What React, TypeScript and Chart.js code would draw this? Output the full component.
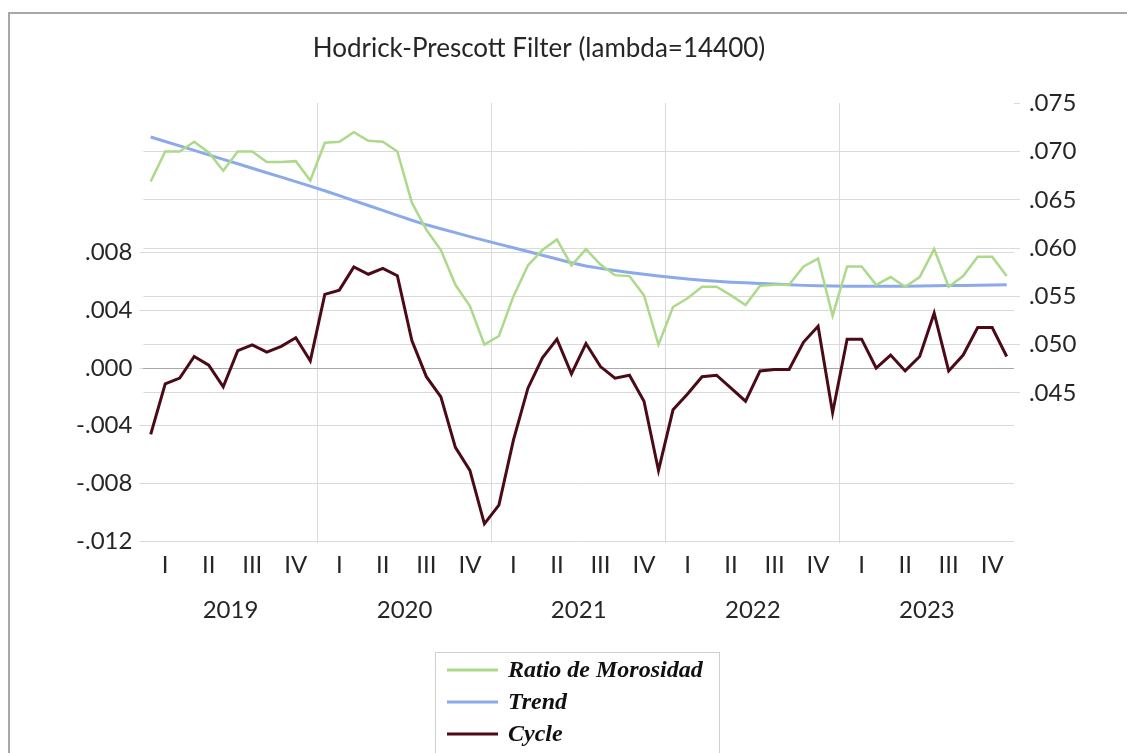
import { useEffect, useRef } from 'react';
import { Chart, registerables } from 'chart.js';

Chart.register(...registerables);

// Monthly observations, January 2019 through December 2023
const years = ['2019', '2020', '2021', '2022', '2023'];
const quarterNames = ['I', 'II', 'III', 'IV'];
const monthsPerYear = 12;

const ratio = [
  0.0669, 0.0700, 0.0700, 0.0710, 0.0699, 0.0680, 0.0700, 0.0700, 0.0689, 0.0689, 0.0690, 0.0670,
  0.0709, 0.0710, 0.0720, 0.0711, 0.0710, 0.0700, 0.0647, 0.0619, 0.0598, 0.0562, 0.0540, 0.0500,
  0.0509, 0.0550, 0.0582, 0.0598, 0.0609, 0.0582, 0.0599, 0.0583, 0.0572, 0.0571, 0.0551, 0.0500,
  0.0539, 0.0548, 0.0560, 0.0560, 0.0551, 0.0541, 0.0561, 0.0562, 0.0562, 0.0581, 0.0589, 0.0530,
  0.0581, 0.0581, 0.0562, 0.0570, 0.0560, 0.0570, 0.0599, 0.0560, 0.0571, 0.0591, 0.0591, 0.0571,
];

const trend = [
  0.07150, 0.07104, 0.07058, 0.07011, 0.06965, 0.06919, 0.06873, 0.06827, 0.06780, 0.06734, 0.06688, 0.06642,
  0.06594, 0.06543, 0.06492, 0.06441, 0.06390, 0.06339, 0.06288, 0.06241, 0.06200, 0.06160, 0.06119, 0.06080,
  0.06041, 0.06003, 0.05964, 0.05926, 0.05887, 0.05849, 0.05815, 0.05790, 0.05768, 0.05748, 0.05730, 0.05712,
  0.05695, 0.05680, 0.05667, 0.05656, 0.05647, 0.05640, 0.05633, 0.05627, 0.05620, 0.05614, 0.05610, 0.05607,
  0.05605, 0.05604, 0.05604, 0.05605, 0.05606, 0.05608, 0.05610, 0.05612, 0.05614, 0.05616, 0.05618, 0.05620,
];

const cycle = [
  -0.0046, -0.0011, -0.0007, 0.0008, 0.0002, -0.0013, 0.0012, 0.0016, 0.0011, 0.0015, 0.0021, 0.0005,
  0.0051, 0.0054, 0.0070, 0.0065, 0.0069, 0.0064, 0.0019, -0.0006, -0.0020, -0.0055, -0.0071, -0.0108,
  -0.0095, -0.0050, -0.0014, 0.0007, 0.0020, -0.0004, 0.0017, 0.0001, -0.0007, -0.0005, -0.0023, -0.0071,
  -0.0029, -0.0018, -0.0006, -0.0005, -0.0014, -0.0023, -0.0002, -0.0001, -0.0001, 0.0018, 0.0029, -0.0031,
  0.0020, 0.0020, 0.0000, 0.0009, -0.0002, 0.0008, 0.0038, -0.0002, 0.0009, 0.0028, 0.0028, 0.0008,
];

const leftTicks = [-0.012, -0.008, -0.004, 0, 0.004, 0.008];
const rightTicks = [0.045, 0.05, 0.055, 0.06, 0.065, 0.07, 0.075];

const seriesNames = ['Ratio de Morosidad', 'Trend', 'Cycle'];
const seriesColors = ['#acd98a', '#8caaea', '#4a0b16'];
const titleText = 'Hodrick-Prescott Filter (lambda=14400)';

const tickFont = { family: 'Lato', size: 24 };
const textColor = '#262626';
const gridColor = '#dadada';
const zeroColor = '#a9a9a9';
const clear = 'rgba(0,0,0,0)';

const fmtTick = (v: number) => (v < 0 ? '-' : '') + Math.abs(v).toFixed(3).replace(/^0/, '');

const asPoints = (vals: number[]) => vals.map((y, i) => ({ x: i, y }));

const fixedTicks = (values: number[]) => (scale: any) => {
  scale.ticks = values.map((value) => ({ value }));
};

// Frame, title and the boxed legend underneath the axes
const decorations = {
  id: 'decorations',
  afterDraw(chart: any) {
    const ctx = chart.ctx as CanvasRenderingContext2D;
    ctx.save();

    ctx.strokeStyle = '#a8a8a8';
    ctx.lineWidth = 2;
    ctx.beginPath();
    ctx.moveTo(9, 800);
    ctx.lineTo(9, 13);
    ctx.lineTo(1200, 13);
    ctx.stroke();

    ctx.fillStyle = textColor;
    ctx.font = '26px Lato';
    ctx.textAlign = 'center';
    ctx.textBaseline = 'alphabetic';
    ctx.fillText(titleText, 539, 57);

    const boxX = 435.5;
    const boxY = 652.5;
    ctx.strokeStyle = '#cfcfcf';
    ctx.lineWidth = 1;
    ctx.strokeRect(boxX, boxY, 284, 140);

    ctx.font = 'italic bold 24px "Liberation Serif"';
    ctx.textAlign = 'left';
    ctx.textBaseline = 'middle';
    chart.data.datasets.forEach((ds: any, i: number) => {
      const y = 670 + i * 32;
      ctx.strokeStyle = ds.borderColor;
      ctx.lineWidth = 3;
      ctx.beginPath();
      ctx.moveTo(447, y);
      ctx.lineTo(498, y);
      ctx.stroke();
      ctx.fillStyle = '#111';
      ctx.fillText(ds.label, 508, y + 1);
    });

    ctx.restore();
  },
};

export default function App() {
  const canvasRef = useRef<HTMLCanvasElement>(null);

  useEffect(() => {
    const canvas = canvasRef.current;
    if (!canvas) return;

    const lastIndex = ratio.length - 1;
    const xMin = -0.5;
    const xMax = lastIndex + 0.5;
    const topTick = rightTicks[rightTicks.length - 1];

    const yearBoundaries = years.slice(1).map((_, k) => (k + 1) * monthsPerYear - 0.5);
    const quarterCenters = years.flatMap((_, y) => quarterNames.map((__, q) => y * monthsPerYear + q * 3 + 1));
    const yearCenters = years.map((_, y) => y * monthsPerYear + (monthsPerYear - 1) / 2);

    const chart = new Chart(canvas, {
      type: 'line',
      data: {
        datasets: [
          {
            label: seriesNames[0],
            data: asPoints(ratio),
            borderColor: seriesColors[0],
            borderWidth: 2.5,
            yAxisID: 'yR',
            xAxisID: 'x',
            pointRadius: 0,
            tension: 0,
          },
          {
            label: seriesNames[1],
            data: asPoints(trend),
            borderColor: seriesColors[1],
            borderWidth: 3,
            yAxisID: 'yR',
            xAxisID: 'x',
            pointRadius: 0,
            tension: 0,
          },
          {
            label: seriesNames[2],
            data: asPoints(cycle),
            borderColor: seriesColors[2],
            borderWidth: 3,
            yAxisID: 'yL',
            xAxisID: 'x',
            pointRadius: 0,
            tension: 0,
          },
        ],
      },
      options: {
        animation: false,
        responsive: false,
        devicePixelRatio: 1,
        layout: { padding: { top: 103, bottom: 125, left: 0, right: 0 } },
        plugins: {
          legend: { display: false },
          title: { display: false },
          tooltip: { enabled: false },
        },
        scales: {
          x: {
            type: 'linear',
            position: 'bottom',
            weight: 0,
            min: xMin,
            max: xMax,
            bounds: 'data',
            afterBuildTicks: fixedTicks(yearBoundaries),
            ticks: { display: false },
            grid: { color: gridColor, drawTicks: false, lineWidth: 1 },
            border: { display: false },
            afterFit: (s: any) => {
              s.height = 0;
            },
          },
          xq: {
            type: 'linear',
            position: 'bottom',
            weight: 1,
            min: xMin,
            max: xMax,
            bounds: 'data',
            afterBuildTicks: fixedTicks(quarterCenters),
            ticks: {
              autoSkip: false,
              maxRotation: 0,
              minRotation: 0,
              padding: 8,
              font: tickFont,
              color: textColor,
              callback: (_v: any, i: number) => quarterNames[i % quarterNames.length],
            },
            grid: { display: false, drawTicks: false },
            border: { display: false },
            afterFit: (s: any) => {
              s.height = 40;
            },
          },
          xy: {
            type: 'linear',
            position: 'bottom',
            weight: 2,
            min: xMin,
            max: xMax,
            bounds: 'data',
            afterBuildTicks: fixedTicks(yearCenters),
            ticks: {
              autoSkip: false,
              maxRotation: 0,
              minRotation: 0,
              padding: 13,
              font: tickFont,
              color: textColor,
              callback: (_v: any, i: number) => years[i],
            },
            grid: { display: false, drawTicks: false },
            border: { display: false },
            afterFit: (s: any) => {
              s.height = 45;
            },
          },
          yL: {
            type: 'linear',
            position: 'left',
            min: -0.01213,
            max: 0.01837,
            bounds: 'data',
            afterBuildTicks: fixedTicks(leftTicks),
            ticks: {
              padding: 7,
              font: tickFont,
              color: textColor,
              callback: (v: any) => fmtTick(Number(v)),
            },
            grid: {
              color: (c: any) => (c.tick && c.tick.value === 0 ? zeroColor : gridColor),
              tickColor: gridColor,
              tickLength: 4,
              lineWidth: 1,
            },
            border: { display: false },
            afterFit: (s: any) => {
              s.width = 143.45;
            },
          },
          yR: {
            type: 'linear',
            position: 'right',
            min: 0.02947,
            max: 0.07502,
            bounds: 'data',
            afterBuildTicks: fixedTicks(rightTicks),
            ticks: {
              padding: 9,
              font: tickFont,
              color: textColor,
              callback: (v: any) => fmtTick(Number(v)),
            },
            grid: {
              color: (c: any) => (c.tick && c.tick.value === topTick ? clear : gridColor),
              tickColor: gridColor,
              tickLength: 6,
              lineWidth: 1,
            },
            border: { display: false },
            afterFit: (s: any) => {
              s.width = 1127 - 1013.96;
            },
          },
        },
      } as any,
      plugins: [decorations],
    });

    return () => chart.destroy();
  }, []);

  return (
    <div style={{ position: 'absolute', left: 0, top: 0, width: 1127, height: 753, background: '#fff' }}>
      <canvas ref={canvasRef} width={1127} height={753} style={{ display: 'block' }} />
    </div>
  );
}
